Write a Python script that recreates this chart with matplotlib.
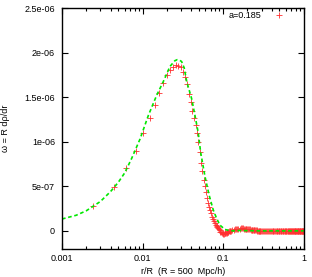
import matplotlib
matplotlib.use("Agg")
import matplotlib.pyplot as plt
from matplotlib.ticker import FuncFormatter, LogLocator, MultipleLocator, NullFormatter

plt.rcParams["font.family"] = ["Liberation Sans", "DejaVu Sans"]

# measured points (red crosses), omega in units of 1e-6
r_meas = [
    0.0024, 0.0044, 0.0063, 0.0083, 0.0102, 0.0122, 0.0142, 0.0161, 0.0181, 0.0200,
    0.0220, 0.0240, 0.0259, 0.0279, 0.0298, 0.0318, 0.0338, 0.0357, 0.0377, 0.0397,
    0.0416, 0.0436, 0.0455, 0.0475, 0.0494, 0.0514, 0.0534, 0.0553, 0.0573, 0.0592,
    0.0612, 0.0632, 0.0651, 0.0671, 0.0690, 0.0710, 0.0730, 0.0749, 0.0769, 0.0788,
    0.0808, 0.0828, 0.0847, 0.0867, 0.0886, 0.0906, 0.0926, 0.0945, 0.0965, 0.0984,
    0.1004, 0.1024, 0.1043, 0.1063, 0.1082, 0.1102, 0.1122, 0.1141, 0.1161, 0.1180,
    0.1200, 0.1220,
    0.125, 0.130, 0.135, 0.140, 0.145, 0.150, 0.155, 0.160, 0.165, 0.170,
    0.175, 0.180, 0.185, 0.190, 0.195, 0.200, 0.205, 0.210, 0.215, 0.220,
    0.225, 0.230, 0.235, 0.240, 0.245, 0.250, 0.255, 0.260, 0.265, 0.270,
    0.275, 0.280, 0.285, 0.290, 0.295,
    0.30, 0.31, 0.32, 0.33, 0.34, 0.35, 0.36, 0.37, 0.38, 0.39,
    0.40, 0.41, 0.42, 0.43, 0.44, 0.45, 0.46, 0.47, 0.48, 0.49,
    0.50, 0.51, 0.52, 0.53, 0.54, 0.55, 0.56, 0.57, 0.58, 0.59,
    0.60, 0.61, 0.62, 0.63, 0.64, 0.65, 0.66, 0.67, 0.68, 0.69,
    0.70, 0.71, 0.72, 0.73, 0.74, 0.75, 0.76, 0.77, 0.78, 0.79,
    0.80, 0.81, 0.82, 0.83, 0.84, 0.85, 0.86, 0.87, 0.88, 0.89,
    0.90, 0.91, 0.92, 0.93, 0.94, 0.95, 0.96, 0.97, 0.98, 0.99,
]
omega_meas = [
    0.277, 0.493, 0.701, 0.895, 1.099, 1.265, 1.409, 1.542, 1.660, 1.745,
    1.800, 1.838, 1.857, 1.852, 1.834, 1.785, 1.722, 1.650, 1.535, 1.440,
    1.350, 1.265, 1.185, 1.097, 0.995, 0.890, 0.760, 0.670, 0.575, 0.505,
    0.432, 0.365, 0.310, 0.272, 0.235, 0.195, 0.160, 0.135, 0.110, 0.090,
    0.070, 0.055, 0.040, 0.028, 0.018, 0.005, -0.008, -0.018, -0.025, -0.029,
    -0.030, -0.030, -0.029, -0.027, -0.024, -0.021, -0.017, -0.013, -0.010, -0.007,
    -0.004, -0.002,
    0.000, 0.006, 0.011, 0.016, 0.019, 0.022, 0.024, 0.026, 0.027, 0.027,
    0.027, 0.026, 0.025, 0.024, 0.022, 0.020, 0.019, 0.017, 0.016, 0.014,
    0.013, 0.011, 0.010, 0.009, 0.008, 0.007, 0.006, 0.005, 0.004, 0.004,
    0.003, 0.003, 0.002, 0.002, 0.001,
    0.001, 0.001, 0.000, 0.000, 0.000, 0.000, 0.000, 0.000, 0.000, 0.000,
    0.000, 0.000, 0.000, 0.000, 0.000, 0.000, 0.000, 0.000, 0.000, 0.000,
    0.000, 0.000, 0.000, 0.000, 0.000, 0.000, 0.000, 0.000, 0.000, 0.000,
    0.000, 0.000, 0.000, 0.000, 0.000, 0.000, 0.000, 0.000, 0.000, 0.000,
    0.000, 0.000, 0.000, 0.000, 0.000, 0.000, 0.000, 0.000, 0.000, 0.000,
    0.000, 0.000, 0.000, 0.000, 0.000, 0.000, 0.000, 0.000, 0.000, 0.000,
    0.000, 0.000, 0.000, 0.000, 0.000, 0.000, 0.000, 0.000, 0.000, 0.000,
]

# model curve (green dashed), omega in units of 1e-6
r_model = [
    0.001, 0.0015, 0.002, 0.003, 0.004, 0.005, 0.006, 0.0073, 0.0093, 0.0118,
    0.015, 0.0181, 0.0219, 0.0252, 0.0269, 0.0287, 0.0305, 0.0329, 0.0353, 0.0406,
    0.0447, 0.0491, 0.0526, 0.0594, 0.0670, 0.0754, 0.0830, 0.0912, 0.105, 0.12,
    0.133, 0.16, 0.2, 0.3, 0.5, 1.0,
]
omega_model = [
    0.133, 0.175, 0.225, 0.330, 0.440, 0.545, 0.650, 0.810, 1.030, 1.295,
    1.523, 1.675, 1.845, 1.909, 1.920, 1.915, 1.900, 1.826, 1.675, 1.485,
    1.295, 1.100, 0.880, 0.614, 0.400, 0.235, 0.140, 0.065, 0.016, 0.003,
    0.000, 0.004, 0.002, 0.000, 0.000, 0.000,
]

legend_label = "a=0.185"

fig = plt.figure(figsize=(3.12, 2.77), dpi=100)
ax = fig.add_axes([0.1987, 0.1022, 0.7747, 0.8689])

ax.plot(
    r_meas,
    [v * 1e-6 for v in omega_meas],
    linestyle="none",
    marker="+",
    markersize=4,
    markeredgewidth=0.6,
    color="#ff3030",
    label=legend_label,
)
ax.plot(
    r_model,
    [v * 1e-6 for v in omega_model],
    linestyle=(0, (2.2, 1.6)),
    linewidth=1.2,
    color="#00e800",
)

ax.set_xscale("log")
ax.set_xlim(0.001, 1)
ax.set_ylim(-2e-7, 2.5e-6)

ax.xaxis.set_major_locator(LogLocator(base=10, numticks=10))
ax.xaxis.set_minor_locator(LogLocator(base=10, subs=range(2, 10), numticks=20))
ax.xaxis.set_minor_formatter(NullFormatter())
ax.xaxis.set_major_formatter(FuncFormatter(lambda v, p: "%g" % v))
ax.yaxis.set_major_locator(MultipleLocator(5e-7))
ax.yaxis.set_major_formatter(FuncFormatter(lambda v, p: "%g" % v))

ax.tick_params(which="both", direction="in", top=True, right=True,
               labelsize=6.5, colors="black", width=0.8)
ax.tick_params(which="major", length=4.5)
ax.tick_params(axis="x", which="major", pad=4)
ax.tick_params(axis="y", which="major", pad=5)
ax.tick_params(which="minor", length=2.5)
for s in ax.spines.values():
    s.set_linewidth(1.0)

ax.set_xlabel("r/R  (R = 500  Mpc/h)", fontsize=6.5)
ax.xaxis.set_label_coords(0.5, -0.078)
ax.set_ylabel("\u03c9 = R d\u03c1/dr", fontsize=6.5)
ax.yaxis.set_label_coords(-0.215, 0.5)

ax.legend(loc="upper right", frameon=False, markerfirst=False, fontsize=6.5,
          handlelength=2.0, handletextpad=1.0, borderaxespad=0, borderpad=0,
          bbox_to_anchor=(0.935, 0.9875))

fig.savefig("out.png", dpi=100)
